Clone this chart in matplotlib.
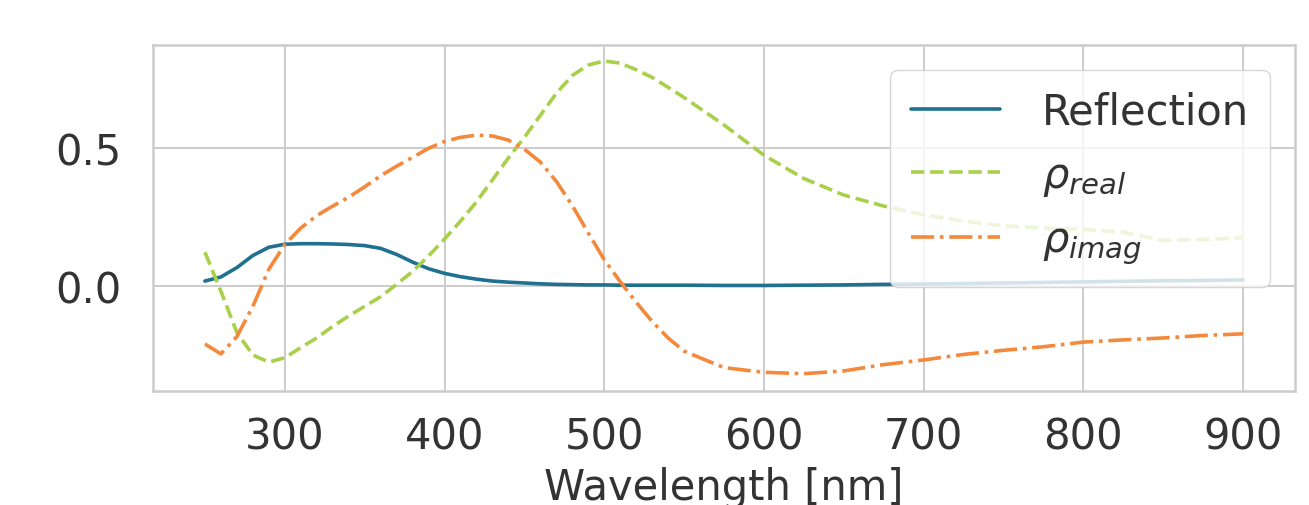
import matplotlib
matplotlib.use("Agg")
import matplotlib.pyplot as plt
import seaborn as sns

# wavelength grid [nm]
wavelength = [250, 260, 270, 280, 290, 300, 310, 320, 330, 340, 350, 360, 370,
              380, 390, 400, 410, 420, 430, 440, 450, 460, 470, 480, 490, 500,
              510, 520, 530, 540, 550, 575, 600, 625, 650, 675, 700, 725, 750,
              775, 800, 825, 850, 875, 900]

reflection = [0.017, 0.032, 0.066, 0.110, 0.140, 0.151, 0.153, 0.153, 0.152,
              0.150, 0.146, 0.136, 0.114, 0.086, 0.062, 0.045, 0.033, 0.024,
              0.017, 0.013, 0.010, 0.007, 0.005, 0.004, 0.003, 0.003, 0.002,
              0.002, 0.002, 0.002, 0.002, 0.001, 0.001, 0.002, 0.003, 0.005,
              0.006, 0.008, 0.010, 0.012, 0.014, 0.016, 0.018, 0.019, 0.021]

rho_real = [0.122, -0.020, -0.170, -0.252, -0.278, -0.262, -0.225, -0.190,
            -0.148, -0.110, -0.075, -0.040, 0.005, 0.052, 0.108, 0.170, 0.235,
            0.305, 0.385, 0.465, 0.540, 0.620, 0.700, 0.765, 0.803, 0.818,
            0.810, 0.786, 0.758, 0.722, 0.685, 0.585, 0.475, 0.390, 0.330,
            0.290, 0.258, 0.235, 0.218, 0.210, 0.205, 0.195, 0.165, 0.168,
            0.175]

rho_imag = [-0.212, -0.248, -0.185, -0.075, 0.060, 0.150, 0.210, 0.255, 0.290,
            0.322, 0.360, 0.400, 0.435, 0.467, 0.500, 0.525, 0.540, 0.548,
            0.545, 0.530, 0.497, 0.450, 0.380, 0.292, 0.192, 0.095, 0.015,
            -0.060, -0.130, -0.190, -0.238, -0.298, -0.315, -0.320, -0.310,
            -0.287, -0.270, -0.250, -0.235, -0.222, -0.205, -0.197, -0.190,
            -0.181, -0.175]

x_ticks = [300, 400, 500, 600, 700, 800, 900]
y_ticks = [0.0, 0.5]

sns.set_theme(style="whitegrid")
plt.rcParams['font.family'] = ['DejaVu Sans']
plt.rcParams['grid.linewidth'] = 1.4
plt.rcParams['axes.linewidth'] = 1.8

fig = plt.figure(figsize=(13.09, 5.06), dpi=100)
ax = fig.add_axes([0.1169, 0.2253, 0.8724, 0.6838])

ax.plot(wavelength, reflection, color='#20708f', lw=2.6, label='Reflection')
ax.plot(wavelength, rho_real, color='#a8d04a', lw=2.6, ls='--',
        label=r'$\rho_{real}$')
ax.plot(wavelength, rho_imag, color='#f4893c', lw=2.6, ls='-.',
        label=r'$\rho_{imag}$')

ax.set_xticks(x_ticks)
ax.set_yticks(y_ticks)
ax.set_ylim(-0.383, 0.876)
ax.tick_params(axis='x', labelsize=30, pad=12, colors='.2')
ax.tick_params(axis='y', labelsize=30, pad=17, colors='.2')
ax.set_xlabel("Wavelength [nm]", fontsize=30, color='.2', labelpad=6)

ax.legend(loc='upper right', fontsize=30, framealpha=0.8,
          handlelength=2.15, handletextpad=1.0, borderpad=0.5,
          borderaxespad=0.6, labelcolor='.2')

fig.savefig("out.png", dpi=100)
